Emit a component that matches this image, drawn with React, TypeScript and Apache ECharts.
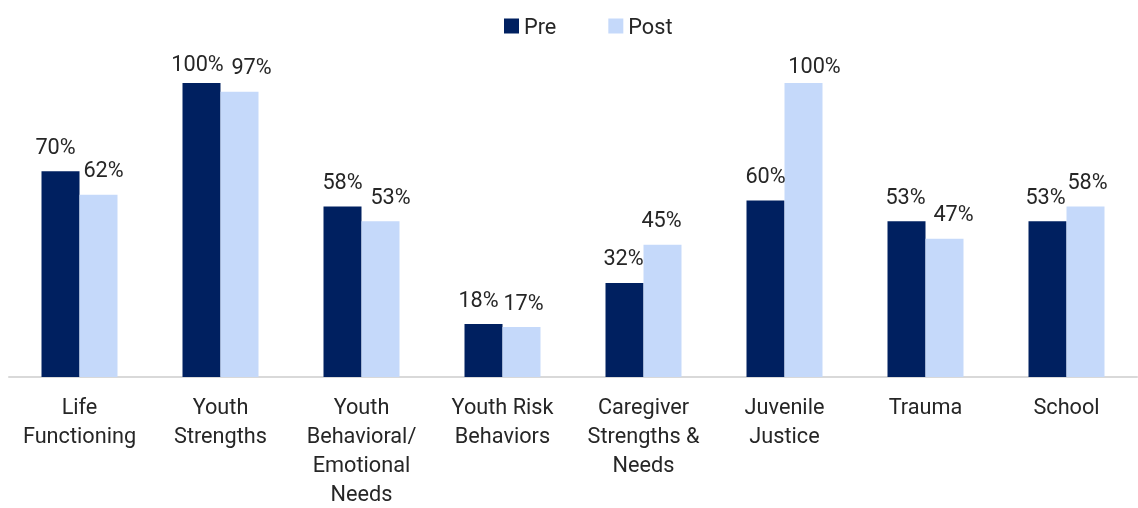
import React, { useEffect, useRef } from "react";
import * as echarts from "echarts";

const categories = [
  "Life\nFunctioning",
  "Youth\nStrengths",
  "Youth\nBehavioral/\nEmotional\nNeeds",
  "Youth Risk\nBehaviors",
  "Caregiver\nStrengths &\nNeeds",
  "Juvenile\nJustice",
  "Trauma",
  "School",
];
const preValues = [70, 100, 58, 18, 32, 60, 53, 53];
const postValues = [62, 97, 53, 17, 45, 100, 47, 58];

// label nudges (styling only), matching the reference's label placement
const preLabelOffsets: [number, number][] = [
  [-5, 0], [-4, 5], [0, 0], [-5, 0], [-1, 0], [0, 0], [-1, 0], [-2, 0],
];
const postLabelOffsets: [number, number][] = [
  [5, 0], [12, 0], [10, 0], [2, 0], [-1, 0], [11, 7], [9, 0], [2, 0],
];

export default function App() {
  const ref = useRef<HTMLDivElement>(null);
  useEffect(() => {
    if (!ref.current) return;
    const chart = echarts.init(ref.current, undefined, { renderer: "svg" });
    const font = "Roboto, 'Noto Sans', sans-serif";
    const fs = 21.7;
    const labelStyle = {
      show: true,
      position: "top" as const,
      distance: 14,
      formatter: "{c}%",
      fontSize: fs,
      fontFamily: font,
      color: "#262626",
    };
    const build = (vals: number[], offs: [number, number][]) =>
      vals.map((v, i) => ({ value: v, label: { offset: offs[i] } }));
    chart.setOption({
      animation: false,
      textStyle: { fontFamily: font },
      legend: {
        left: 499,
        top: 10,
        itemWidth: 15,
        itemHeight: 15,
        itemGap: 52,
        icon: "rect",
        textStyle: { fontSize: fs, color: "#262626", fontFamily: font },
        data: ["Pre", "Post"],
      },
      grid: { left: 9, right: 1, top: 83, bottom: 126, containLabel: false },
      xAxis: {
        type: "category",
        data: categories,
        axisLine: { lineStyle: { color: "#D9D9D9", width: 2 } },
        axisTick: { show: false },
        axisLabel: {
          interval: 0,
          fontSize: fs,
          lineHeight: 29,
          margin: 15,
          color: "#262626",
          fontFamily: font,
        },
      },
      yAxis: {
        type: "value",
        min: 0,
        max: 100,
        show: false,
        splitLine: { show: false },
      },
      series: [
        {
          name: "Pre",
          type: "bar",
          data: build(preValues, preLabelOffsets),
          barWidth: 38,
          barGap: "0%",
          itemStyle: { color: "#002060" },
          label: labelStyle,
        },
        {
          name: "Post",
          type: "bar",
          data: build(postValues, postLabelOffsets),
          barWidth: 38,
          barGap: "0%",
          itemStyle: { color: "#C5D9FA" },
          label: labelStyle,
        },
      ],
    });
    return () => chart.dispose();
  }, []);
  return (
    <div
      ref={ref}
      style={{ position: "fixed", left: 0, top: 0, width: 1138, height: 508 }}
    />
  );
}
